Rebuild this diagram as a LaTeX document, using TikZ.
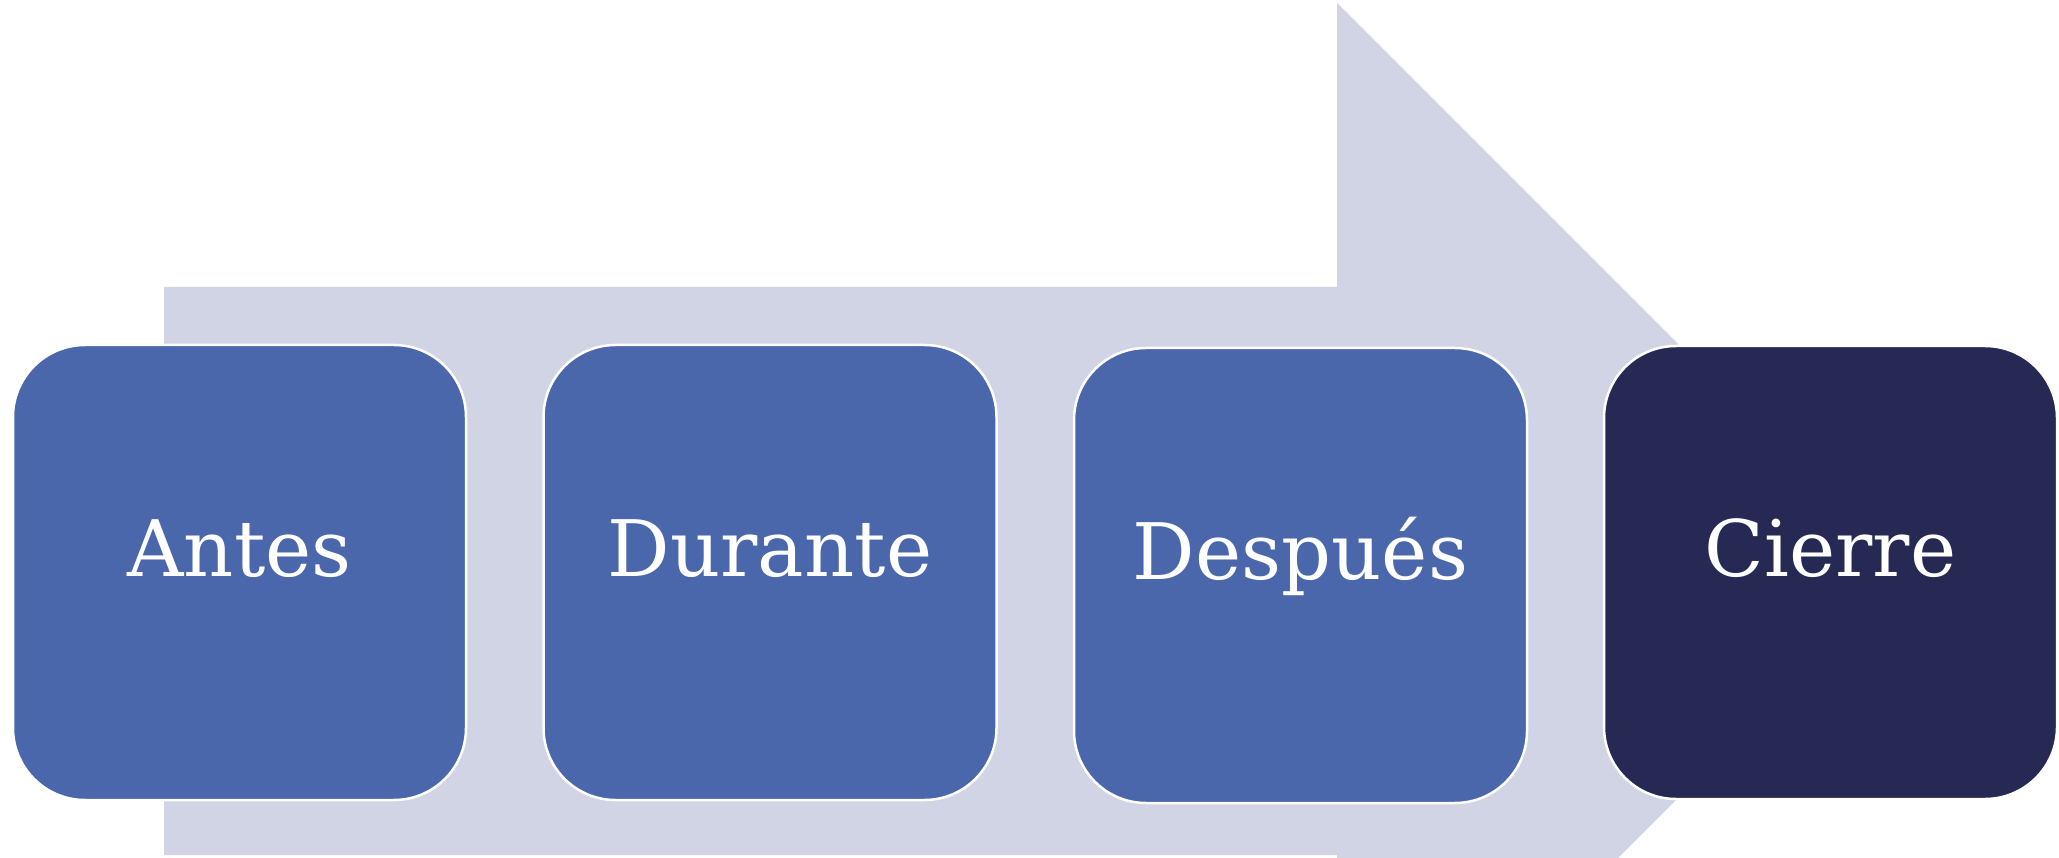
\documentclass[tikz,border=0pt]{standalone}
\usepackage{fontspec}
\setmainfont{DejaVu Serif}
\definecolor{lav}{RGB}{208,212,229}
\definecolor{boxblue}{RGB}{74,103,172}
\definecolor{boxdark}{RGB}{38,41,84}
\tikzset{
  stage/.style={draw=white, line width=2.5pt, fill=boxblue, rounded corners=72pt,
    minimum width=#1, text=white, inner sep=0pt,
    font=\fontsize{78}{90}\selectfont, text height=0.73em, text depth=0pt},
  stage/.default=453pt,
}
\begin{document}
\begin{tikzpicture}[x=1pt,y=-1pt]
\useasboundingbox (0,0) rectangle (2059,858);
\clip (0,0) rectangle (2059,858);
\fill[lav] (164,287) -- (1337,287) -- (1337,3) -- (1905,571) -- (1337,1139)
  -- (1337,855) -- (164,855) -- cycle;
\node[stage, minimum height=455pt] (antes) at (239.5,572.5) {Antes};
\node[stage, minimum height=455pt] (durante) at (770,572.5) {Durante};
\node[stage, minimum height=455pt] (despues) at (1300.5,575.5) {Después};
\node[stage, minimum height=453pt, fill=boxdark] (cierre) at (1830.5,572.5) {Cierre};
\end{tikzpicture}
\end{document}
